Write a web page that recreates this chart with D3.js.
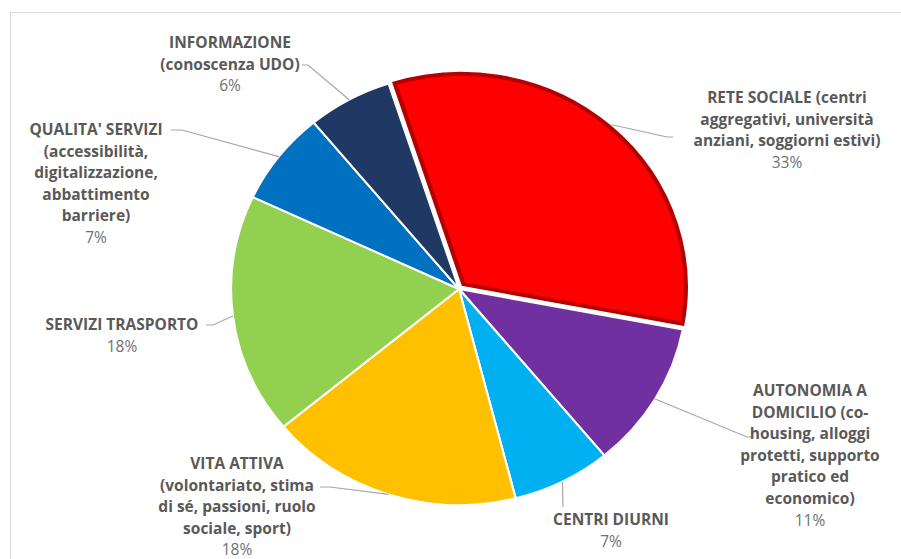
<!DOCTYPE html>
<html>
<head>
<meta charset="utf-8">
<script src="https://cdn.jsdelivr.net/npm/d3@7"></script>
<style>
  body { margin: 0; background: #fff; }
  svg text { font-family: "Open Sans", Lato, sans-serif; }
</style>
</head>
<body>
<div id="chart"></div>
<script>
// data, in the order Excel draws the slices (clockwise)
const labels = [
  ["RETE SOCIALE (centri", "aggregativi, università", "anziani, soggiorni estivi)"],
  ["AUTONOMIA A", "DOMICILIO (co-", "housing, alloggi", "protetti, supporto", "pratico ed", "economico)"],
  ["CENTRI DIURNI"],
  ["VITA ATTIVA", "(volontariato, stima", "di sé, passioni, ruolo", "sociale, sport)"],
  ["SERVIZI TRASPORTO"],
  ["QUALITA' SERVIZI", "(accessibilità,", "digitalizzazione,", "abbattimento", "barriere)"],
  ["INFORMAZIONE", "(conoscenza UDO)"]
];
const values = [33, 11, 7, 18, 18, 7, 6];
const colors = ["#ff0000", "#7030a0", "#00b0f0", "#ffc000", "#92d050", "#0070c0", "#203864"];

// label placement: text centre x, first baseline y, leader elbow and end
const labelLayout = [
  { x: 787, y: 103, elbow: [667, 137], end: [673, 137] },
  { x: 810, y: 396, elbow: [747, 437], end: [753, 437] },
  { x: 611, y: 525, elbow: [563, 507], end: [563, 507] },
  { x: 237, y: 469, elbow: [330, 487], end: [320, 487] },
  { x: 122, y: 330, elbow: [213, 325], end: [206, 325] },
  { x: 96,  y: 135, elbow: [182, 130], end: [171, 130] },
  { x: 230, y: 48,  elbow: [308, 65],  end: [302, 65] }
];

const width = 901, height = 559;
const cx = 459, cy = 289;
const r = 216, sx = 1.055;   // picture is a little wider than tall
const explode = 3;
const lineH = 21.6;

const svg = d3.select("#chart").append("svg")
  .attr("width", width)
  .attr("height", height);

// chart frame
svg.append("rect")
  .attr("x", 10.5).attr("y", 12.5)
  .attr("width", width).attr("height", height)
  .attr("fill", "none")
  .attr("stroke", "#d9d9d9");

const startAngle = -18 * Math.PI / 180;
const pie = d3.pie().sort(null)
  .startAngle(startAngle)
  .endAngle(startAngle + 2 * Math.PI);
const arcs = pie(values);

const arc = d3.arc().innerRadius(0).outerRadius(r);

const g = svg.append("g")
  .attr("transform", `translate(${cx},${cy}) scale(${sx},1)`);

const offset = (d, i) => {
  if (i !== 0) return [0, 0];
  const a = (d.startAngle + d.endAngle) / 2;
  return [explode * Math.sin(a), -explode * Math.cos(a)];
};

g.append("clipPath").attr("id", "redclip")
  .append("path")
  .attr("d", arc(arcs[0]));

const slices = g.selectAll("g.slice")
  .data(arcs)
  .join("g")
  .attr("class", "slice")
  .attr("transform", (d, i) => `translate(${offset(d, i)})`);

slices.append("path")
  .attr("d", arc)
  .attr("fill", (d, i) => colors[i]);

// darker inner rim on the exploded slice
slices.filter((d, i) => i === 0)
  .append("path")
  .attr("d", arc)
  .attr("fill", "none")
  .attr("stroke", "#b40000")
  .attr("stroke-width", 10)
  .attr("clip-path", "url(#redclip)");

slices.append("path")
  .attr("d", arc)
  .attr("fill", "none")
  .attr("stroke", "#fff")
  .attr("stroke-width", 2)
  .attr("stroke-linejoin", "round");

// leader lines
const edgePoint = (d, i) => {
  const a = (d.startAngle + d.endAngle) / 2;
  const o = offset(d, i);
  return [cx + sx * (r * Math.sin(a) + o[0]), cy - r * Math.cos(a) + o[1]];
};

svg.append("g")
  .selectAll("path")
  .data(arcs)
  .join("path")
  .attr("d", (d, i) => d3.line()([edgePoint(d, i), labelLayout[i].elbow, labelLayout[i].end]))
  .attr("fill", "none")
  .attr("stroke", "#a6a6a6")
  .attr("stroke-width", 1.2);

// labels
const lab = svg.append("g")
  .selectAll("text")
  .data(arcs)
  .join("text")
  .attr("text-anchor", "middle")
  .attr("font-size", 15.5);

lab.each(function (d, i) {
  const t = d3.select(this);
  const L = labelLayout[i];
  labels[i].forEach((line, k) => {
    t.append("tspan")
      .attr("x", L.x)
      .attr("y", L.y + k * lineH)
      .attr("font-weight", "bold")
      .attr("fill", "#595959")
      .text(line);
  });
  t.append("tspan")
    .attr("x", L.x)
    .attr("y", L.y + labels[i].length * lineH)
    .attr("fill", "#707070")
    .text(d3.format(".0%")(d.data / 100));
});
</script>
</body>
</html>
